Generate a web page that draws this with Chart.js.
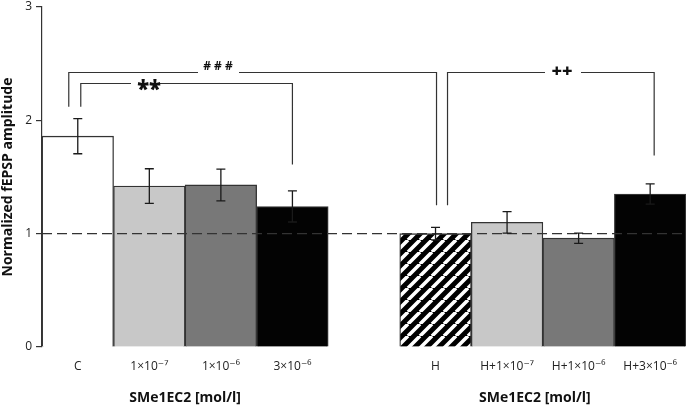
<!DOCTYPE html>
<html>
<head>
<meta charset="utf-8">
<script src="https://cdn.jsdelivr.net/npm/chart.js@4"></script>
<style>
  html, body { margin: 0; padding: 0; background: #fff; }
  #wrap { width: 689px; height: 405px; }
</style>
</head>
<body>
<div id="wrap"><canvas id="chart"></canvas></div>
<script>
const categories = ['C', '1×10⁻⁷', '1×10⁻⁶', '3×10⁻⁶', '', 'H', 'H+1×10⁻⁷', 'H+1×10⁻⁶', 'H+3×10⁻⁶'];
const means = [1.86, 1.42, 1.43, 1.24, null, 1.00, 1.10, 0.96, 1.35];
const errors = [0.155, 0.153, 0.14, 0.137, null, 0.055, 0.095, 0.045, 0.09];
const yTicks = [0, 1, 2, 3];
const baseline = 1;
const groupTitles = ['SMe1EC2 [mol/l]', 'SMe1EC2 [mol/l]'];
const groupRanges = [[0, 3], [5, 8]];
// significance brackets: from/to category, top of bracket and leg ends in y units
const brackets = [
  { label: '###', from: 0, to: 5, top: 2.43, fromEnd: 2.12, toEnd: 1.25 },
  { label: '**', from: 0, to: 3, top: 2.325, fromEnd: 2.12, toEnd: 1.61 },
  { label: '++', from: 5, to: 8, top: 2.43, fromEnd: 1.25, toEnd: 1.69 }
];

const ctx = document.getElementById('chart').getContext('2d');

// hatched fill for the H bar
const pc = document.createElement('canvas');
pc.width = 12; pc.height = 12;
const p = pc.getContext('2d');
p.fillStyle = '#000';
p.fillRect(0, 0, 12, 12);
p.strokeStyle = '#fff';
p.lineWidth = 3.6;
p.beginPath();
for (let k = -12; k <= 24; k += 12) {
  p.moveTo(k, 12);
  p.lineTo(k + 12, 0);
}
p.stroke();
const hatch = ctx.createPattern(pc, 'repeat');

const fills = ['#ffffff', '#c8c8c8', '#787878', '#030303', '#ffffff', hatch, '#c8c8c8', '#787878', '#030303'];

const extras = {
  id: 'extras',
  afterDatasetsDraw(chart) {
    const c = chart.ctx;
    const xs = chart.scales.x;
    const ys = chart.scales.y;
    const area = chart.chartArea;
    c.save();

    // dashed reference line
    c.strokeStyle = '#333';
    c.lineWidth = 1.3;
    c.setLineDash([10, 5]);
    c.beginPath();
    const yb = ys.getPixelForValue(baseline);
    c.moveTo(area.left, yb);
    c.lineTo(area.right, yb);
    c.stroke();
    c.setLineDash([]);

    // error bars
    c.strokeStyle = '#1a1a1a';
    c.lineWidth = 1.3;
    means.forEach((m, i) => {
      if (m == null) return;
      const x = xs.getPixelForValue(i);
      const yt = ys.getPixelForValue(m + errors[i]);
      const yl = ys.getPixelForValue(m - errors[i]);
      c.beginPath();
      c.moveTo(x, yt); c.lineTo(x, yl);
      c.moveTo(x - 4.5, yt); c.lineTo(x + 4.5, yt);
      c.moveTo(x - 4.5, yl); c.lineTo(x + 4.5, yl);
      c.stroke();
    });

    // brackets
    const offs = { '###': [-9, 1], '**': [3, 0], '++': [12, 4] };
    const gaps = { '###': [-20, 21], '**': [-18, 11], '++': [-17, 19] };
    const textX = { '###': 218, '**': 149, '++': 562 };
    brackets.forEach(b => {
      const x1 = xs.getPixelForValue(b.from) + offs[b.label][0];
      const x2 = xs.getPixelForValue(b.to) + offs[b.label][1];
      const yt = Math.round(ys.getPixelForValue(b.top)) + 0.5;
      const tx = textX[b.label];
      c.strokeStyle = '#333';
      c.lineWidth = 1.2;
      c.beginPath();
      c.moveTo(x1, ys.getPixelForValue(b.fromEnd));
      c.lineTo(x1, yt);
      c.lineTo(tx + gaps[b.label][0], yt);
      c.moveTo(tx + gaps[b.label][1], yt);
      c.lineTo(x2, yt);
      c.lineTo(x2, ys.getPixelForValue(b.toEnd));
      c.stroke();
      c.fillStyle = '#111';
      c.textAlign = 'center';
      c.textBaseline = 'middle';
      if (b.label === '###') {
        c.font = 'bold 12px "Open Sans", sans-serif';
        c.fillText('# # #', tx, yt - 6);
      } else if (b.label === '**') {
        c.font = '800 22px "Open Sans", sans-serif';
        c.fillText('**', tx, yt + 7);
      } else {
        c.font = '800 18px "Open Sans", sans-serif';
        c.fillText('++', tx, yt - 1);
      }
    });

    // group titles
    c.fillStyle = '#111';
    c.font = 'bold 14px "Open Sans", sans-serif';
    c.textAlign = 'center';
    c.textBaseline = 'middle';
    groupTitles.forEach((t, g) => {
      const r = groupRanges[g];
      const x = (xs.getPixelForValue(r[0]) + xs.getPixelForValue(r[1])) / 2;
      c.fillText(t, g === 1 ? x - 8 : x, 398);
    });
    c.restore();
  }
};

new Chart(ctx, {
  type: 'bar',
  data: {
    labels: categories,
    datasets: [{
      data: means,
      backgroundColor: fills,
      borderColor: '#333',
      borderWidth: 1.3,
      barPercentage: 1,
      categoryPercentage: 1
    }]
  },
  options: {
    responsive: true,
    maintainAspectRatio: false,
    animation: false,
    layout: { padding: { top: 0, right: 0, left: 0, bottom: 0 } },
    plugins: { legend: { display: false }, tooltip: { enabled: false } },
    scales: {
      x: {
        grid: { display: false, drawTicks: false },
        border: { display: false },
        ticks: { color: '#222', padding: 12, font: { family: '"Open Sans", "DejaVu Sans", sans-serif', size: 12 } },
        afterFit: s => { s.height = 58; }
      },
      y: {
        min: 0,
        max: 3,
        afterBuildTicks: s => { s.ticks = yTicks.map(v => ({ value: v })); },
        grid: { drawOnChartArea: false, drawTicks: true, tickLength: 6, color: '#333', lineWidth: 1.2 },
        border: { color: '#333', width: 1.2 },
        ticks: { color: '#222', padding: 4, font: { family: '"Open Sans", sans-serif', size: 12, lineHeight: 0.5 } },
        title: {
          display: true,
          text: 'Normalized fEPSP amplitude',
          color: '#111',
          padding: 0,
          font: { family: '"Open Sans", sans-serif', size: 14, weight: 'bold' }
        },
        afterFit: s => { s.width = 42; }
      }
    }
  },
  plugins: [extras]
});
</script>
</body>
</html>
